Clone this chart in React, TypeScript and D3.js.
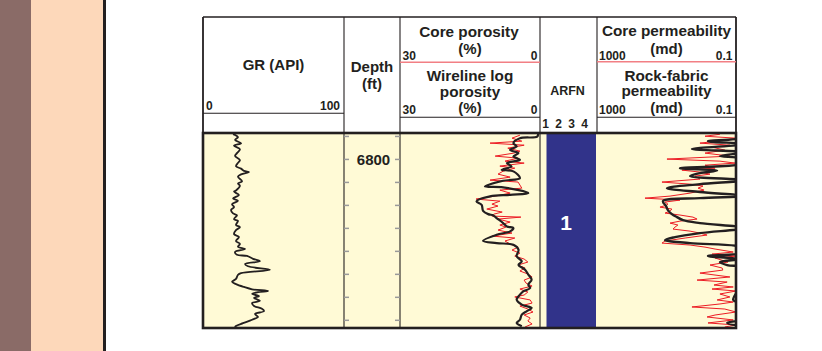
import React from 'react';
import * as d3 from 'd3';

// ---------- DATA ----------
const depthTicks = [6798, 6800, 6802, 6804, 6806, 6808, 6810, 6812, 6814];
const depthLabels = [6800];
const depthDomain = [6797.7, 6814.67];
const arfnTicks = [1, 2, 3, 4];
const arfnZones = [{ top: 6797.7, base: 6814.67, unit: 1 }];

// [depth ft, GR API]
const grCurve: [number, number][] = [
  [6797.8, 21.3], [6798.06, 24.8], [6798.3, 22.7], [6798.6, 27.0], [6798.8, 22.0], [6799.1, 26.2],
  [6799.45, 24.1], [6799.7, 22.7], [6800.06, 26.2], [6800.3, 24.8], [6800.6, 23.4], [6800.8, 27.0],
  [6801.0, 29.1], [6801.1, 32.6], [6801.3, 27.0], [6801.5, 24.8], [6801.9, 27.7], [6802.1, 24.8],
  [6802.3, 26.2], [6802.7, 23.4], [6802.8, 22.0], [6803.1, 25.5], [6803.4, 21.3], [6803.6, 24.8],
  [6803.9, 20.6], [6804.15, 22.0], [6804.4, 19.9], [6804.7, 21.3], [6804.85, 24.1], [6805.2, 22.0],
  [6805.35, 24.8], [6805.7, 23.4], [6805.9, 26.2], [6806.15, 23.4], [6806.5, 22.0], [6806.75, 25.5],
  [6807.1, 23.4], [6807.35, 26.2], [6807.6, 24.8], [6807.8, 29.8], [6808.05, 22.7], [6808.3, 24.1],
  [6808.4, 31.2], [6808.65, 35.5], [6808.85, 40.4], [6809.1, 29.8], [6809.3, 31.9], [6809.6, 47.5],
  [6809.9, 27.0], [6810.05, 24.8], [6810.4, 23.4], [6810.65, 20.6], [6810.85, 23.4], [6811.1, 29.1],
  [6811.3, 34.8], [6811.45, 46.1], [6811.55, 39.0], [6811.7, 34.8], [6811.9, 39.7], [6812.05, 36.2],
  [6812.3, 40.4], [6812.5, 34.8], [6812.75, 36.2], [6813.0, 41.8], [6813.2, 43.3], [6813.45, 36.9],
  [6813.7, 39.0], [6813.95, 34.8], [6814.25, 28.4], [6814.5, 23.4], [6814.6, 22.7],
];

// [depth ft, porosity %]
const wirelinePorosity: [number, number][] = [
  [6797.6, 0.4], [6797.76, 0.4], [6798.02, 0.6], [6798.15, 4.3], [6798.58, 5.7], [6798.87, 5.0],
  [6799.17, 6.4], [6799.45, 4.6], [6799.74, 5.7], [6800.03, 4.3], [6800.32, 7.1], [6800.61, 6.1],
  [6800.9, 8.2], [6801.04, 5.7], [6801.63, 4.3], [6801.86, 7.9], [6802.35, 11.8], [6802.43, 7.9],
  [6802.93, 2.5], [6803.08, 6.4], [6803.22, 10.7], [6803.65, 13.6], [6803.95, 12.5], [6804.47, 12.2],
  [6804.76, 11.1], [6804.87, 10.0], [6805.1, 9.3], [6805.54, 7.9], [6805.83, 7.1], [6805.97, 5.7],
  [6806.26, 6.4], [6806.56, 9.3], [6807.08, 12.2], [6807.28, 9.3], [6807.43, 5.7], [6807.86, 4.6],
  [6808.43, 5.0], [6808.87, 3.9], [6809.17, 4.6], [6809.6, 3.2], [6810.03, 2.5], [6810.47, 1.8],
  [6810.9, 2.5], [6811.19, 2.1], [6811.48, 3.6], [6811.77, 4.3], [6812.21, 5.0], [6812.64, 3.9],
  [6812.93, 1.8], [6813.22, 2.9], [6813.51, 3.9], [6813.95, 4.3], [6814.23, 5.0], [6814.52, 3.9],
];

const corePorosity: [number, number][] = [
  [6797.89, 4.3], [6798.15, 6.0], [6798.41, 3.9], [6798.58, 10.7], [6798.76, 3.4], [6799.02, 6.9],
  [6799.28, 4.3], [6799.45, 5.6], [6799.71, 9.6], [6799.89, 4.7], [6800.15, 7.5], [6800.32, 3.4],
  [6800.58, 8.6], [6800.76, 5.4], [6801.02, 7.9], [6801.28, 9.0], [6801.54, 6.4], [6801.8, 10.7],
  [6801.97, 4.7], [6802.23, 4.3], [6802.5, 3.9], [6802.67, 8.6], [6802.93, 6.4], [6803.19, 9.6],
  [6803.45, 13.7], [6803.63, 8.6], [6803.89, 10.3], [6804.06, 9.0], [6804.32, 11.4], [6804.58, 8.1],
  [6804.76, 9.9], [6804.93, 10.3], [6805.02, 4.1], [6805.19, 9.0], [6805.45, 6.4], [6805.71, 8.6],
  [6805.89, 7.3], [6806.15, 9.0], [6806.41, 6.0], [6806.67, 10.3], [6806.84, 5.4], [6807.1, 7.5],
  [6807.37, 6.4], [6807.63, 4.7], [6807.89, 6.0], [6808.15, 4.3], [6808.41, 5.4], [6808.67, 3.4],
  [6808.93, 2.6], [6809.19, 4.7], [6809.45, 3.2], [6809.71, 4.3], [6809.97, 2.6], [6810.23, 1.7],
  [6810.5, 3.4], [6810.76, 3.0], [6811.02, 1.7], [6811.28, 4.3], [6811.54, 2.6], [6811.8, 3.4],
  [6811.97, 5.4], [6812.23, 2.1], [6812.5, 1.7], [6812.76, 4.3], [6813.02, 2.6], [6813.28, 1.5],
  [6813.54, 3.4], [6813.8, 2.1], [6814.06, 2.6], [6814.32, 1.7], [6814.58, 3.2],
];

// [depth ft, permeability md]
const rockFabricPerm: [number, number][] = [
  [6797.71, 0.055], [6798.06, 0.055], [6798.41, 0.64], [6798.67, 0.055], [6799.1, 1.85], [6799.37, 0.055],
  [6799.71, 0.29], [6799.97, 0.055], [6800.32, 0.055], [6800.76, 4.1], [6800.97, 0.35], [6801.19, 1.09],
  [6801.45, 2.1], [6801.8, 0.055], [6802.15, 1.09], [6802.5, 9.7], [6802.84, 1.09], [6803.19, 0.055],
  [6803.37, 1.09], [6803.63, 12.6], [6804.06, 10.3], [6804.41, 9.1], [6804.76, 7.0], [6805.02, 5.0],
  [6805.28, 3.35], [6805.54, 1.09], [6805.97, 0.055], [6806.41, 1.09], [6806.76, 5.7], [6807.02, 11.0],
  [6807.28, 2.1], [6807.71, 0.055], [6808.06, 0.055], [6808.41, 0.64], [6808.67, 0.077], [6808.93, 0.29],
  [6809.19, 0.18], [6809.45, 0.055], [6810.5, 0.055], [6812.23, 0.12], [6812.67, 0.055], [6813.8, 0.055],
  [6814.23, 0.18], [6814.5, 0.055],
];

const corePerm: [number, number][] = [
  [6797.81, 0.29], [6797.98, 0.78], [6798.15, 0.1], [6798.41, 0.33], [6798.58, 1.09], [6798.76, 0.15],
  [6798.93, 0.49], [6799.19, 0.21], [6799.45, 0.78], [6799.71, 0.15], [6799.97, 9.7], [6800.15, 0.29],
  [6800.32, 0.107], [6800.5, 0.78], [6800.76, 0.4], [6800.93, 3.6], [6801.1, 1.09], [6801.28, 0.56],
  [6801.45, 1.51], [6801.71, 1.09], [6801.97, 13.5], [6802.15, 2.1], [6802.32, 0.89], [6802.5, 1.24],
  [6802.67, 0.83], [6802.93, 2.1], [6803.19, 7.9], [6803.37, 41.6], [6803.54, 4.1], [6803.71, 11.0],
  [6803.89, 9.1], [6803.97, 9.7], [6804.15, 15.4], [6804.32, 7.0], [6804.5, 7.9], [6804.67, 11.0],
  [6804.84, 4.1], [6805.02, 1.73], [6805.19, 1.32], [6805.37, 4.1], [6805.54, 7.9], [6805.71, 4.7],
  [6805.89, 5.7], [6806.06, 6.5], [6806.24, 2.1], [6806.41, 1.09], [6806.58, 0.68], [6806.84, 2.9],
  [6807.1, 11.0], [6807.28, 13.5], [6807.45, 2.1], [6807.63, 0.78], [6807.8, 0.4], [6808.06, 0.12],
  [6808.24, 0.49], [6808.41, 0.1], [6808.58, 0.4], [6808.93, 0.17], [6809.19, 0.56], [6809.45, 0.25],
  [6809.63, 0.24], [6809.89, 1.09], [6810.23, 0.15], [6810.5, 1.32], [6810.67, 0.18], [6810.93, 0.43],
  [6811.1, 0.12], [6811.28, 0.49], [6811.45, 0.1], [6811.71, 0.29], [6811.97, 0.15], [6812.23, 0.35],
  [6812.41, 0.12], [6812.58, 0.29], [6812.84, 1.85], [6813.02, 0.21], [6813.28, 0.1], [6813.54, 0.4],
  [6813.71, 0.68], [6813.97, 0.12], [6814.23, 0.64], [6814.41, 0.1], [6814.58, 0.21],
];

// ---------- LAYOUT ----------
const W = 822, H = 351;
const X0 = 203, X_GR = 344, X_DEP = 400, X_POR = 540, X_ARFN = 597, X1 = 736;
const HEAD_TOP = 17, DATA_TOP = 133, DATA_BOT = 328;
const FONT = "'Liberation Sans', Arial, Helvetica, sans-serif";
const INK = '#231f20';
const RED = '#ec1c24';
const PINK = '#f27f84';
const YELLOW = '#fffad6';

export default function App() {
  const y = d3.scaleLinear().domain(depthDomain).range([DATA_TOP, DATA_BOT]);
  const grX = d3.scaleLinear().domain([0, 100]).range([X0, X_GR]);
  const porX = d3.scaleLinear().domain([30, 0]).range([X_DEP, X_POR]);
  const permX = d3.scaleLog().domain([1000, 0.1]).range([X_ARFN, X1]);
  const arfnX = d3.scaleLinear().domain([1, 4]).range([545.5, 584.5]);

  const smooth = d3.curveCatmullRom.alpha(0.5);
  const grLine = d3.line<[number, number]>().x(d => grX(d[1])).y(d => y(d[0])).curve(smooth);
  const porSmooth = d3.line<[number, number]>().x(d => porX(d[1])).y(d => y(d[0])).curve(smooth);
  const porLin = d3.line<[number, number]>().x(d => porX(d[1])).y(d => y(d[0]));
  const permSmooth = d3.line<[number, number]>().x(d => permX(d[1])).y(d => y(d[0])).curve(smooth);
  const permLin = d3.line<[number, number]>().x(d => permX(d[1])).y(d => y(d[0]));

  const txt = (x: number, yy: number, s: string, size: number, anchor: string = 'middle', fill: string = INK) => (
    <text x={x} y={yy} fontSize={size} fontWeight="bold" textAnchor={anchor} fill={fill} fontFamily={FONT}>{s}</text>
  );

  return (
    <svg width={W} height={H} style={{ position: 'absolute', left: 0, top: 0 }} xmlns="http://www.w3.org/2000/svg">
      <defs>
        <clipPath id="cGR"><rect x={X0} y={DATA_TOP} width={X_GR - X0} height={DATA_BOT - DATA_TOP} /></clipPath>
        <clipPath id="cPOR"><rect x={X_DEP} y={DATA_TOP} width={X_POR - X_DEP} height={DATA_BOT - DATA_TOP} /></clipPath>
        <clipPath id="cPERM"><rect x={X_ARFN} y={DATA_TOP} width={X1 - X_ARFN} height={DATA_BOT - DATA_TOP} /></clipPath>
      </defs>
      <rect x={0} y={0} width={W} height={H} fill="#fff" />
      {/* side strips */}
      <rect x={0} y={0} width={31} height={H} fill="#8a6b67" />
      <rect x={31} y={0} width={72} height={H} fill="#fdd8ba" />
      <rect x={103} y={0} width={3} height={H} fill={INK} />

      {/* header frame */}
      <line x1={X0} x2={X1} y1={HEAD_TOP} y2={HEAD_TOP} stroke={INK} strokeWidth={1.6} />
      {[X0, X_GR, X_DEP, X_POR, X_ARFN, X1].map((x, i) => (
        <line key={i} x1={x} x2={x} y1={HEAD_TOP} y2={DATA_TOP} stroke={INK} strokeWidth={i === 0 || i === 5 ? 1.8 : 1.1} />
      ))}
      <line x1={X0} x2={X_GR} y1={113.3} y2={113.3} stroke={INK} strokeWidth={1.1} />
      <line x1={X_DEP} x2={X_POR} y1={62.3} y2={62.3} stroke={PINK} strokeWidth={1.5} />
      <line x1={X_DEP} x2={X_POR} y1={117.3} y2={117.3} stroke={INK} strokeWidth={1.1} />
      <line x1={X_ARFN} x2={X1} y1={61.8} y2={61.8} stroke={PINK} strokeWidth={1.5} />
      <line x1={X_ARFN} x2={X1} y1={117.3} y2={117.3} stroke={INK} strokeWidth={1.1} />

      {/* header text */}
      {txt(273.5, 70, 'GR (API)', 15)}
      {txt(206, 109.5, '0', 12, 'start')}
      {txt(340, 109.5, '100', 12, 'end')}
      {txt(372, 71.5, 'Depth', 15)}
      {txt(372, 89, '(ft)', 15)}
      {txt(469, 36.5, 'Core porosity', 15.3)}
      {txt(470, 53.5, '(%)', 15)}
      {txt(402.5, 60, '30', 12, 'start')}
      {txt(537.5, 60, '0', 12, 'end')}
      {txt(470, 81, 'Wireline log', 15.3)}
      {txt(470, 96.5, 'porosity', 15.3)}
      {txt(470, 113, '(%)', 15)}
      {txt(402.5, 114, '30', 12, 'start')}
      {txt(537.5, 114, '0', 12, 'end')}
      {txt(567.5, 95, 'ARFN', 12.5)}
      {arfnTicks.map(t => <g key={t}>{txt(arfnX(t), 127.5, String(t), 12)}</g>)}
      {txt(666.5, 36, 'Core permeability', 15.3)}
      {txt(666.5, 53.5, '(md)', 15)}
      {txt(599, 59.5, '1000', 12, 'start')}
      {txt(732.5, 59.5, '0.1', 12, 'end')}
      {txt(666.5, 80.5, 'Rock-fabric', 15.3)}
      {txt(666.5, 96, 'permeability', 15.3)}
      {txt(666.5, 112.5, '(md)', 15)}
      {txt(599, 114, '1000', 12, 'start')}
      {txt(732.5, 114, '0.1', 12, 'end')}

      {/* data area */}
      <rect x={X0} y={DATA_TOP} width={X1 - X0} height={DATA_BOT - DATA_TOP} fill={YELLOW} />
      {arfnZones.map((z, i) => (
        <g key={i}>
          <rect x={arfnX(1) + 1} y={y(z.top)} width={X_ARFN - 1 - (arfnX(1) + 1)} height={y(z.base) - y(z.top)} fill="#31338a" />
          {txt(566, (y(z.top) + y(z.base)) / 2 - 0.5, String(z.unit), 21, 'middle', '#ffffff')}
        </g>
      ))}

      <g clipPath="url(#cGR)">
        <path d={grLine(grCurve) || ''} fill="none" stroke={INK} strokeWidth={1.8} strokeLinejoin="round" />
      </g>
      <g clipPath="url(#cPOR)">
        <path d={porLin(corePorosity) || ''} fill="none" stroke={RED} strokeWidth={1} />
        <path d={porSmooth(wirelinePorosity) || ''} fill="none" stroke={INK} strokeWidth={2.2} strokeLinejoin="round" />
      </g>
      <g clipPath="url(#cPERM)">
        <path d={permLin(corePerm) || ''} fill="none" stroke={RED} strokeWidth={1} />
        <path d={permSmooth(rockFabricPerm) || ''} fill="none" stroke={INK} strokeWidth={2.4} strokeLinejoin="round" />
      </g>

      {/* dividers */}
      {[X_GR, X_DEP, X_POR].map((x, i) => (
        <line key={i} x1={x} x2={x} y1={DATA_TOP} y2={DATA_BOT} stroke={INK} strokeWidth={1.1} />
      ))}
      {/* depth ticks */}
      {depthTicks.map(t => (
        <g key={t}>
          <line x1={X_GR} x2={X_GR + 5} y1={y(t)} y2={y(t)} stroke="#9a9a9a" strokeWidth={1.5} />
          <line x1={X_DEP - 5} x2={X_DEP} y1={y(t)} y2={y(t)} stroke="#9a9a9a" strokeWidth={1.5} />
        </g>
      ))}
      {depthLabels.map(t => <g key={t}>{txt(373.5, y(t) + 5.4, String(t), 15)}</g>)}

      <rect x={X0} y={DATA_TOP} width={X1 - X0} height={DATA_BOT - DATA_TOP} fill="none" stroke={INK} strokeWidth={2.6} />
    </svg>
  );
}
